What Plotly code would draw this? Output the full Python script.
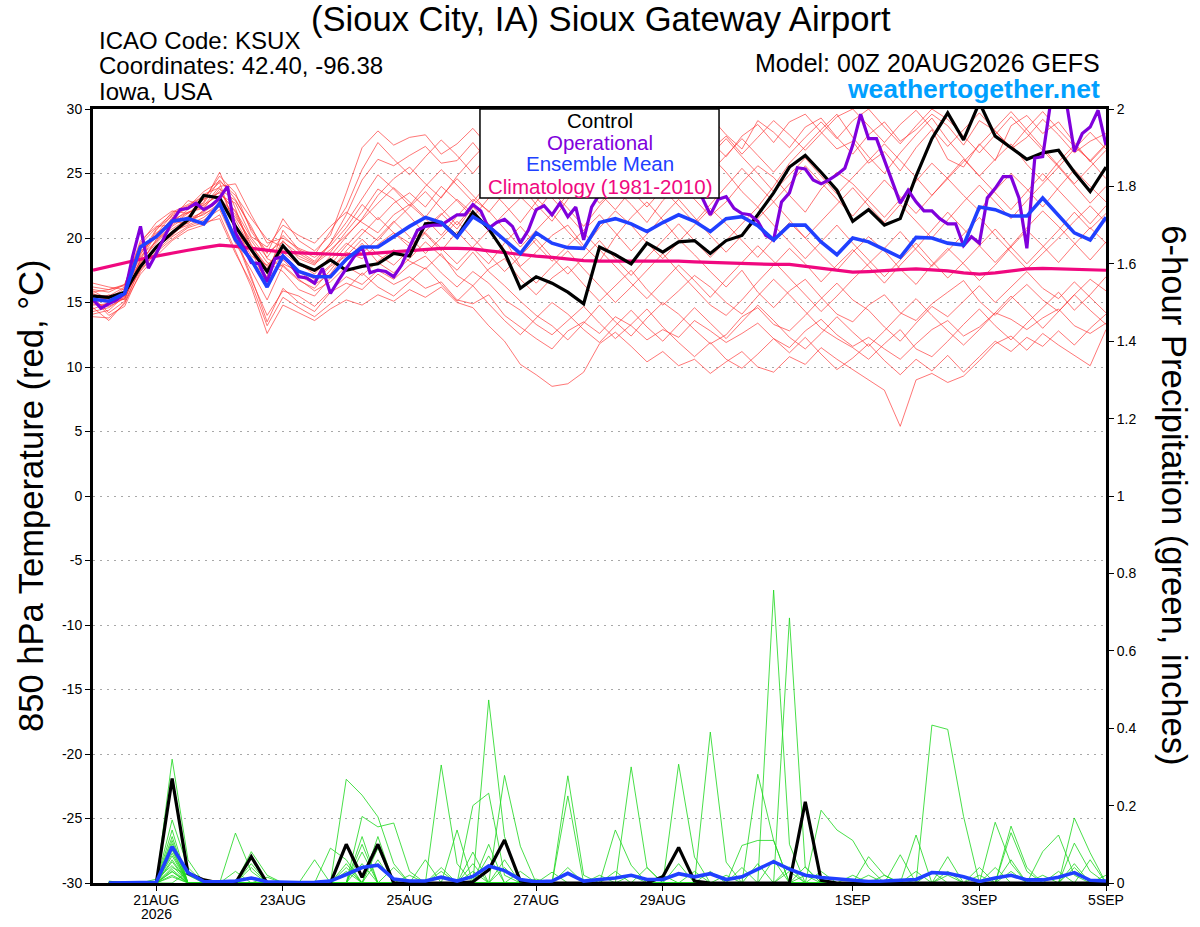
import pandas as pd
import plotly.graph_objects as go

# time axes (GEFS 00Z 20AUG2026 run, 6-hourly members, 3-hourly operational)
times_6h = pd.date_range("2026-08-20 00:00", periods=65, freq="6h")
times_3h = pd.date_range("2026-08-20 00:00", periods=129, freq="3h")
times_precip = times_6h[1:]

tick_dates = ["2026-08-21", "2026-08-23", "2026-08-25", "2026-08-27",
              "2026-08-29", "2026-09-01", "2026-09-03", "2026-09-05"]
tick_labels = ["21AUG", "23AUG", "25AUG", "27AUG", "29AUG", "1SEP", "3SEP", "5SEP"]
year_label = "2026"
temp_ticks = [-30, -25, -20, -15, -10, -5, 0, 5, 10, 15, 20, 25, 30]
temp_tick_labels = ["-30", "-25", "-20", "-15", "-10", "-5", "0", "5", "10", "15", "20", "25", "30"]

# 850 hPa temperature (C)
control_temp = [15.5, 15.4, 15.8, 17.8, 19.3, 20.4, 21.4, 23.3, 23.1, 20.9,
                19.1, 17.4, 19.4, 18.0, 17.5, 18.3, 17.5, 17.8, 18.0, 18.8,
                18.6, 21.1, 21.2, 20.1, 22.0, 20.7, 18.9, 16.1, 17.0, 16.5,
                15.8, 14.9, 19.3, 18.7, 18.0, 19.6, 18.9, 19.7, 19.8, 18.8,
                19.8, 20.2, 21.8, 23.5, 25.5, 26.4, 25.1, 23.7, 21.3, 22.2,
                21.0, 21.5, 24.8, 27.7, 29.7, 27.6, 30.5, 27.9, 27.0, 26.1,
                26.6, 26.8, 25.1, 23.6, 25.5]

operational_temp = [15.25, 14.55, 14.9, 15.2, 15.7, 18.55, 20.9, 17.65, 18.8, 20.1,
                    21.3, 22.2, 22.3, 22.7, 22.2, 22.55, 23.1, 24.0, 20.4, 19.3,
                    18.1, 18.0, 16.6, 18.4, 18.55, 18.0, 17.0, 16.9, 16.5, 17.65,
                    15.7, 16.7, 17.65, 18.55, 19.3, 17.3, 17.5, 17.4, 17.0, 17.9,
                    19.3, 20.6, 20.9, 21.0, 21.0, 21.4, 21.8, 21.8, 22.6, 22.1,
                    20.75, 21.2, 21.45, 20.9, 19.6, 20.6, 22.2, 22.5, 21.8, 22.7,
                    21.65, 22.4, 19.85, 22.4, 23.4, 24.2, 24.8, 25.3, 24.6, 25.0,
                    25.6, 24.9, 24.3, 25.2, 25.8, 24.7, 24.0, 23.1, 21.8, 23.0,
                    23.2, 22.3, 21.9, 21.8, 21.3, 20.2, 19.85, 22.8, 23.5, 25.45,
                    25.35, 24.5, 24.2, 24.5, 24.9, 25.4, 27.2, 29.6, 27.7, 27.7,
                    26.0, 24.4, 22.7, 23.7, 22.8, 22.1, 22.1, 21.5, 21.1, 21.1,
                    19.4, 20.1, 19.6, 23.1, 23.85, 24.75, 24.75, 23.1, 19.2, 26.2,
                    26.3, 30.5, 31.0, 30.5, 26.7, 28.1, 28.6, 29.9, 27.2]

mean_temp = [15.25, 15.1, 15.7, 19.3, 20.1, 21.3, 21.5, 21.1, 22.7, 19.85,
             18.3, 16.2, 18.6, 17.4, 17.0, 17.0, 18.35, 19.3, 19.3, 20.1,
             20.9, 21.6, 21.2, 20.05, 21.65, 20.9, 19.85, 18.8, 20.4, 19.6,
             19.25, 19.2, 21.2, 21.5, 21.1, 20.5, 21.2, 21.8, 21.3, 20.5,
             21.5, 21.65, 20.95, 19.85, 21.0, 21.0, 19.7, 18.7, 20.0, 19.7,
             19.1, 18.5, 20.05, 20.0, 19.6, 19.45, 22.4, 22.2, 21.7, 21.7,
             23.1, 21.8, 20.4, 19.85, 21.6]

climo_temp = [17.5, 17.8, 18.1, 18.35, 18.6, 18.85, 19.05, 19.25, 19.45, 19.35,
              19.2, 19.05, 18.9, 18.85, 18.8, 18.75, 18.7, 18.75, 18.85, 18.95,
              19.05, 19.15, 19.2, 19.2, 19.15, 19.0, 18.85, 18.7, 18.6, 18.5,
              18.35, 18.25, 18.2, 18.2, 18.25, 18.25, 18.25, 18.2, 18.15, 18.1,
              18.05, 18.0, 18.0, 17.95, 17.95, 17.8, 17.6, 17.45, 17.35, 17.4,
              17.5, 17.55, 17.6, 17.55, 17.45, 17.3, 17.2, 17.3, 17.45, 17.6,
              17.65, 17.6, 17.55, 17.5, 17.5]

temp_m01 = [15.8, 16.0, 16.3, 19.5, 20.8, 21.9, 22.5, 23.0, 24.8, 23.5,
            20.5, 18.8, 21.5, 19.8, 19.0, 20.2, 23.5, 27.0, 28.3, 27.2,
            27.8, 28.0, 26.5, 27.3, 28.5, 27.1, 28.8, 29.5, 28.2, 29.0,
            27.6, 28.4, 29.2, 27.9, 28.8, 29.6, 28.1, 27.3, 28.9, 29.4,
            28.0, 26.9, 29.1, 28.2, 27.0, 28.6, 29.3, 27.8, 26.5, 28.0,
            29.0, 27.5, 28.4, 29.6, 28.7, 27.2, 29.1, 28.3, 26.9, 27.8,
            29.2, 28.0, 26.6, 27.5, 28.1]
temp_m02 = [15.2, 15.0, 15.9, 18.8, 20.2, 21.4, 22.0, 22.4, 23.6, 22.0,
            19.5, 17.6, 19.8, 18.4, 17.9, 19.6, 21.8, 24.5, 26.1, 25.6,
            26.4, 27.1, 25.8, 26.0, 27.4, 25.9, 26.8, 27.6, 25.2, 26.5,
            24.8, 26.0, 27.3, 25.7, 26.4, 27.8, 26.2, 25.1, 26.9, 27.5,
            26.3, 27.9, 28.8, 27.4, 29.0, 29.6, 28.2, 26.9, 27.5, 25.8,
            26.7, 25.2, 27.0, 28.4, 26.1, 25.5, 27.3, 26.0, 28.7, 29.5,
            28.1, 29.0, 27.4, 25.9, 27.2]
temp_m03 = [14.6, 13.6, 15.0, 17.2, 18.6, 19.8, 20.6, 21.0, 21.8, 19.0,
            16.2, 12.6, 14.8, 14.2, 13.6, 14.5, 15.2, 14.8, 15.6, 15.1,
            16.0, 15.4, 16.2, 15.0, 14.6, 13.2, 12.0, 10.2, 9.4, 8.5,
            8.7, 9.6, 11.8, 12.7, 11.6, 10.4, 11.2, 10.1, 10.6, 9.5,
            10.4, 11.2, 10.0, 9.6, 10.8, 10.2, 11.5, 10.6, 9.8, 9.0,
            8.2, 5.4, 9.0, 9.5, 8.8, 9.3, 10.5, 11.8, 12.4, 11.3,
            12.6, 11.7, 10.9, 10.1, 12.9]
temp_m04 = [13.9, 13.8, 14.9, 17.8, 19.2, 20.5, 21.0, 21.6, 22.6, 20.2,
            17.0, 13.5, 16.1, 15.0, 14.3, 15.8, 16.5, 16.0, 17.2, 16.4,
            17.0, 16.1, 16.6, 15.2, 14.9, 15.6, 14.0, 13.1, 12.2, 11.4,
            12.8, 13.5, 12.6, 13.9, 13.2, 12.1, 12.9, 12.3, 13.6, 12.8,
            11.9, 12.6, 13.4, 12.2, 11.5, 12.8, 13.7, 12.5, 11.6, 12.3,
            11.4, 10.6, 11.8, 12.9, 13.6, 12.4, 13.1, 14.2, 13.7, 12.9,
            13.8, 14.5, 13.2, 12.6, 13.4]
temp_m05 = [15.5, 15.3, 16.1, 18.2, 19.6, 20.9, 21.7, 22.8, 25.1, 22.3,
            19.0, 16.4, 18.3, 17.1, 16.4, 17.2, 18.9, 18.4, 19.5, 20.4,
            19.6, 20.8, 21.9, 20.7, 22.4, 21.1, 19.9, 17.8, 18.9, 20.2,
            21.0, 19.4, 18.2, 20.1, 21.6, 22.8, 21.4, 19.9, 18.7, 17.4,
            16.2, 17.5, 15.8, 14.6, 15.9, 16.8, 15.4, 14.1, 13.5, 14.8,
            15.6, 14.2, 13.6, 14.9, 15.8, 16.7, 15.1, 14.0, 15.3, 16.4,
            15.2, 14.3, 15.6, 16.8, 15.9]
temp_m06 = [16.5, 16.2, 16.0, 18.9, 20.4, 21.2, 22.2, 23.4, 23.9, 21.1,
            18.2, 17.0, 20.6, 19.1, 18.5, 19.4, 20.8, 22.6, 21.4, 22.7,
            23.5, 22.4, 24.0, 22.9, 21.6, 23.1, 24.4, 23.2, 22.0, 23.6,
            22.3, 20.9, 22.5, 23.8, 22.6, 21.2, 22.9, 24.1, 23.0, 21.7,
            22.8, 24.3, 25.6, 24.7, 23.3, 22.0, 23.8, 25.1, 24.2, 22.9,
            21.6, 23.0, 24.4, 25.8, 24.6, 23.3, 22.1, 23.7, 25.0, 23.8,
            22.4, 23.9, 25.3, 24.0, 22.8]
temp_m07 = [14.3, 14.6, 15.4, 19.0, 20.0, 21.6, 21.3, 22.1, 23.0, 21.6,
            19.8, 18.1, 17.4, 16.0, 15.5, 16.9, 18.2, 19.6, 18.1, 17.3,
            18.4, 19.7, 18.6, 17.5, 18.9, 17.4, 16.3, 15.1, 14.0, 13.2,
            12.1, 13.4, 14.8, 13.5, 12.4, 13.8, 15.0, 14.1, 12.9, 11.8,
            12.5, 13.9, 14.6, 13.3, 12.8, 14.0, 15.3, 16.5, 15.2, 14.4,
            13.1, 12.0, 13.4, 14.7, 13.9, 15.1, 16.3, 15.0, 16.2, 17.4,
            16.1, 15.3, 16.6, 15.4, 14.2]
temp_m08 = [15.0, 15.6, 15.2, 18.4, 20.6, 22.0, 22.6, 23.2, 24.3, 20.8,
            18.6, 17.9, 19.1, 18.0, 17.2, 18.6, 20.1, 21.5, 23.3, 24.6,
            25.5, 24.2, 23.1, 24.8, 26.2, 27.5, 25.4, 24.1, 22.6, 21.3,
            23.0, 24.5, 25.8, 27.0, 25.6, 24.2, 25.5, 26.8, 27.9, 26.4,
            25.1, 23.6, 22.4, 24.0, 25.8, 27.1, 28.4, 29.6, 27.8, 26.3,
            25.0, 26.6, 28.0, 29.3, 27.6, 26.2, 24.8, 26.1, 27.3, 25.7,
            24.4, 25.9, 27.2, 26.0, 24.6]
temp_m09 = [15.7, 15.1, 15.6, 17.5, 19.0, 20.1, 20.9, 21.4, 22.2, 19.6,
            17.5, 15.2, 17.9, 16.8, 15.9, 16.6, 17.8, 17.1, 18.2, 19.1,
            18.2, 17.6, 18.8, 17.1, 16.3, 17.6, 18.4, 16.8, 15.6, 16.9,
            17.8, 16.4, 15.1, 16.3, 17.5, 16.0, 14.8, 15.9, 17.1, 16.2,
            15.0, 14.1, 15.5, 16.8, 15.6, 14.3, 13.0, 12.2, 11.5, 10.6,
            11.8, 12.9, 11.4, 10.8, 12.0, 13.3, 14.5, 13.2, 12.1, 13.4,
            14.6, 15.8, 14.4, 15.6, 17.0]
temp_m10 = [16.0, 15.8, 16.4, 19.8, 20.9, 21.0, 21.9, 22.6, 23.3, 22.7,
            20.1, 19.3, 21.0, 20.2, 19.6, 20.9, 22.0, 21.2, 20.4, 21.8,
            22.6, 21.5, 20.2, 21.7, 23.0, 22.1, 20.7, 19.3, 20.6, 21.9,
            20.5, 19.2, 20.8, 22.1, 21.0, 19.6, 18.4, 19.7, 21.0, 22.3,
            21.1, 19.8, 18.5, 19.9, 21.2, 20.0, 18.7, 17.5, 18.9, 20.1,
            19.0, 17.6, 16.4, 17.9, 19.2, 18.0, 16.7, 17.9, 19.3, 20.6,
            19.4, 18.1, 19.5, 20.8, 19.6]
temp_m11 = [14.8, 14.9, 15.3, 18.0, 19.9, 20.7, 21.5, 22.0, 22.9, 21.0,
            18.9, 17.3, 18.7, 17.5, 16.8, 17.9, 19.4, 20.7, 19.8, 21.2,
            22.4, 23.6, 22.3, 21.0, 22.5, 23.9, 22.6, 21.2, 22.8, 24.3,
            25.5, 24.1, 22.7, 23.9, 25.2, 26.6, 25.3, 24.0, 25.4, 26.8,
            27.9, 26.5, 27.8, 29.1, 28.0, 26.8, 28.1, 29.4, 30.0, 28.7,
            27.4, 28.8, 29.9, 28.5, 27.1, 28.4, 29.7, 28.3, 27.0, 28.5,
            29.8, 28.4, 27.1, 26.0, 27.3]
temp_m12 = [15.4, 14.2, 15.1, 17.6, 19.4, 20.3, 21.2, 21.9, 22.4, 20.0,
            16.8, 14.0, 15.9, 15.5, 14.7, 15.9, 17.0, 16.4, 17.5, 16.8,
            17.9, 18.6, 17.3, 16.2, 17.4, 16.5, 15.2, 14.4, 13.3, 12.5,
            13.6, 14.7, 13.4, 12.2, 13.3, 14.5, 13.1, 11.9, 10.8, 11.9,
            10.6, 9.9, 11.0, 12.2, 11.1, 12.3, 11.0, 9.8, 10.7, 11.8,
            10.5, 9.4, 10.6, 9.7, 10.9, 9.6, 10.8, 12.0, 11.2, 12.3,
            11.6, 12.8, 11.7, 13.0, 14.1]
temp_m13 = [15.1, 15.4, 15.8, 18.6, 19.7, 21.1, 22.0, 22.3, 23.8, 22.9,
            20.9, 18.4, 17.8, 16.7, 16.1, 17.5, 19.0, 20.3, 21.6, 20.4,
            19.3, 20.5, 21.8, 23.0, 21.9, 20.6, 21.9, 23.1, 24.4, 23.1,
            21.8, 20.4, 19.1, 17.8, 16.5, 15.3, 16.6, 17.9, 16.7, 15.4,
            16.8, 18.1, 19.4, 18.2, 16.9, 15.6, 14.3, 15.5, 16.8, 18.0,
            19.2, 20.5, 19.1, 17.8, 19.0, 20.3, 21.6, 20.2, 18.9, 17.6,
            18.8, 20.0, 21.3, 22.5, 21.2]
temp_m14 = [14.1, 14.4, 15.5, 18.3, 20.3, 21.8, 22.4, 23.6, 24.4, 23.3,
            21.5, 19.9, 19.3, 18.6, 18.0, 18.9, 20.5, 22.0, 23.8, 23.0,
            21.7, 20.3, 19.0, 20.5, 19.2, 18.0, 19.6, 20.9, 19.5, 18.2,
            19.4, 20.6, 21.8, 20.4, 19.0, 20.3, 21.7, 23.0, 21.6, 20.2,
            18.9, 20.2, 21.5, 22.8, 21.4, 20.0, 21.3, 22.6, 23.9, 22.5,
            21.2, 22.6, 21.3, 20.0, 21.4, 22.8, 24.1, 22.8, 21.5, 22.9,
            24.2, 25.5, 24.1, 22.7, 24.0]
temp_m15 = [15.9, 15.2, 15.7, 19.2, 20.1, 21.5, 22.9, 22.5, 24.0, 24.2,
            21.8, 19.6, 20.0, 19.2, 18.7, 20.5, 22.4, 25.3, 27.4, 26.1,
            24.9, 26.3, 27.6, 26.4, 25.0, 26.5, 28.0, 26.6, 25.2, 26.7,
            28.1, 29.3, 27.9, 26.5, 27.9, 29.2, 27.8, 26.3, 25.0, 26.4,
            27.7, 26.3, 25.0, 23.6, 24.9, 26.2, 24.8, 23.4, 24.7, 26.0,
            27.3, 26.0, 24.7, 23.3, 24.6, 25.9, 27.2, 28.5, 29.8, 28.4,
            27.0, 25.6, 24.2, 25.5, 26.8]
temp_m16 = [14.9, 14.7, 15.3, 17.9, 19.3, 20.2, 21.4, 21.8, 22.7, 21.4,
            19.2, 16.9, 18.0, 17.4, 16.6, 17.8, 18.6, 19.9, 18.7, 17.9,
            19.1, 20.4, 19.2, 18.0, 19.3, 20.6, 19.1, 17.7, 16.5, 17.8,
            19.0, 17.6, 16.3, 15.0, 16.2, 17.5, 18.8, 17.4, 16.1, 14.8,
            14.0, 15.2, 16.6, 17.9, 19.2, 18.0, 16.6, 17.9, 19.1, 17.8,
            16.5, 17.9, 19.2, 20.6, 22.0, 20.7, 19.4, 18.1, 19.4, 20.8,
            22.1, 20.9, 19.6, 18.3, 19.7]
temp_m17 = [15.3, 14.0, 14.7, 17.4, 18.9, 19.9, 20.8, 21.2, 21.5, 18.8,
            16.5, 13.2, 15.4, 14.6, 13.9, 14.9, 16.0, 17.3, 16.2, 15.5,
            16.6, 17.7, 16.4, 15.1, 16.3, 14.9, 13.6, 12.5, 13.8, 15.0,
            14.1, 12.9, 11.9, 13.2, 14.4, 13.1, 12.0, 13.3, 14.6, 13.4,
            12.2, 13.5, 14.8, 13.6, 12.3, 11.4, 12.6, 13.9, 12.7, 11.6,
            12.8, 14.1, 15.3, 14.0, 12.8, 11.7, 12.9, 14.2, 15.5, 14.3,
            13.0, 14.3, 15.6, 14.4, 13.3]
temp_m18 = [16.2, 16.0, 16.4, 19.6, 21.2, 22.1, 21.9, 23.0, 23.5, 22.1,
            20.0, 18.5, 20.2, 19.0, 18.2, 19.6, 21.2, 23.1, 24.9, 23.8,
            22.5, 24.0, 25.3, 24.1, 22.8, 24.3, 25.7, 24.4, 23.1, 21.9,
            23.4, 24.8, 23.5, 22.2, 23.7, 25.0, 26.3, 25.0, 23.7, 25.1,
            26.4, 27.7, 26.4, 25.1, 26.5, 27.8, 29.0, 27.7, 29.1, 30.0,
            28.6, 27.3, 28.7, 30.0, 29.2, 27.9, 26.6, 28.0, 29.4, 28.1,
            26.8, 25.5, 26.9, 28.2, 26.9]
temp_m19 = [14.5, 15.0, 15.5, 18.1, 19.8, 21.3, 21.1, 22.2, 23.1, 21.8,
            19.4, 17.8, 18.9, 17.9, 17.4, 18.3, 19.6, 18.8, 20.0, 21.3,
            20.1, 18.8, 20.0, 21.3, 20.0, 18.7, 17.4, 18.6, 19.9, 18.5,
            17.2, 18.5, 19.8, 18.4, 17.1, 18.5, 19.8, 21.1, 19.8, 18.5,
            19.8, 21.1, 22.4, 21.0, 19.7, 18.4, 19.7, 21.0, 19.6, 18.3,
            17.0, 18.3, 19.6, 18.2, 16.9, 18.1, 19.4, 20.7, 19.3, 18.0,
            19.3, 20.6, 22.0, 20.7, 21.9]
temp_m20 = [15.6, 15.5, 16.2, 18.7, 20.7, 21.7, 22.3, 22.7, 24.5, 23.0,
            20.7, 18.9, 19.7, 18.8, 18.1, 19.1, 20.2, 21.4, 22.7, 23.9,
            22.8, 21.6, 23.2, 24.6, 23.3, 22.0, 23.5, 24.9, 26.2, 24.8,
            23.5, 24.9, 26.3, 25.0, 23.7, 22.4, 23.8, 22.5, 21.2, 22.6,
            24.0, 25.4, 24.1, 22.8, 24.2, 25.6, 24.3, 23.0, 21.7, 23.1,
            24.5, 23.2, 21.9, 23.3, 24.7, 26.1, 24.8, 23.5, 22.2, 23.6,
            25.0, 23.7, 22.4, 21.1, 22.5]

# 6-hour precipitation (inches), valid 06Z 20AUG onward
control_precip = [0, 0, 0, 0, 0.27, 0.025, 0.008, 0,
                  0, 0.068, 0, 0, 0, 0, 0, 0.1,
                  0.015, 0.1, 0, 0, 0, 0, 0, 0.003,
                  0.034, 0.111, 0.005, 0, 0, 0, 0, 0,
                  0, 0, 0, 0.016, 0.092, 0.005, 0, 0,
                  0, 0, 0, 0, 0.21, 0.007, 0, 0,
                  0, 0, 0, 0, 0, 0, 0, 0,
                  0, 0, 0, 0, 0, 0, 0, 0]
mean_precip = [0, 0, 0, 0.002, 0.094, 0.027, 0.004, 0.003,
               0.005, 0.013, 0.003, 0.001, 0.001, 0.002, 0.005, 0.022,
               0.04, 0.046, 0.01, 0.005, 0.005, 0.015, 0.005, 0.017,
               0.044, 0.032, 0.009, 0.003, 0.005, 0.025, 0.005, 0.009,
               0.013, 0.02, 0.009, 0.009, 0.024, 0.016, 0.024, 0.009,
               0.016, 0.036, 0.055, 0.036, 0.02, 0.014, 0.01, 0.008,
               0.004, 0.005, 0.007, 0.009, 0.027, 0.025, 0.016, 0.004,
               0.013, 0.02, 0.008, 0.008, 0.015, 0.027, 0.007, 0.005]

precip_m01 = [0, 0, 0, 0, 0.32, 0.06, 0, 0,
              0, 0, 0, 0, 0, 0, 0, 0,
              0, 0, 0, 0, 0, 0.305, 0.05, 0,
              0, 0, 0, 0, 0, 0, 0, 0,
              0, 0, 0, 0, 0, 0, 0, 0,
              0, 0, 0.757, 0.1, 0, 0, 0, 0,
              0, 0, 0, 0, 0, 0.02, 0, 0,
              0, 0, 0, 0, 0, 0, 0, 0]
precip_m02 = [0, 0, 0, 0, 0.163, 0.04, 0, 0,
              0, 0, 0, 0, 0, 0, 0, 0.268,
              0.227, 0.171, 0.05, 0, 0, 0, 0, 0,
              0, 0, 0, 0, 0, 0, 0, 0,
              0, 0, 0, 0, 0, 0, 0, 0,
              0, 0, 0, 0.685, 0.04, 0, 0, 0,
              0, 0, 0, 0, 0, 0, 0, 0,
              0, 0, 0, 0, 0, 0, 0, 0]
precip_m03 = [0, 0, 0, 0, 0.137, 0, 0, 0,
              0.129, 0.03, 0, 0, 0, 0, 0, 0,
              0, 0, 0, 0, 0, 0, 0, 0,
              0.473, 0.12, 0, 0, 0, 0, 0, 0,
              0, 0, 0, 0, 0.307, 0.067, 0, 0,
              0, 0, 0, 0, 0, 0, 0, 0,
              0, 0, 0, 0, 0, 0, 0, 0,
              0, 0, 0, 0, 0, 0, 0, 0]
precip_m04 = [0, 0, 0, 0, 0.102, 0, 0, 0,
              0, 0.081, 0.02, 0, 0, 0, 0, 0,
              0.172, 0.145, 0.155, 0.03, 0, 0, 0, 0,
              0, 0, 0, 0, 0, 0, 0, 0,
              0, 0.3, 0.04, 0, 0, 0, 0, 0,
              0, 0, 0, 0, 0, 0, 0, 0,
              0, 0, 0, 0, 0, 0, 0, 0,
              0, 0, 0, 0, 0, 0, 0, 0]
precip_m05 = [0, 0, 0, 0, 0.077, 0, 0, 0,
              0, 0, 0, 0, 0, 0, 0, 0,
              0, 0, 0, 0, 0, 0, 0, 0.2,
              0.232, 0.02, 0, 0, 0, 0, 0, 0,
              0, 0, 0, 0, 0, 0, 0.39, 0.054,
              0, 0, 0, 0, 0, 0, 0, 0,
              0, 0, 0, 0, 0.408, 0.397, 0.172, 0,
              0, 0, 0, 0, 0, 0, 0, 0]
precip_m06 = [0, 0, 0, 0, 0.055, 0, 0, 0,
              0, 0, 0, 0, 0, 0, 0.09, 0.06,
              0, 0, 0, 0, 0, 0, 0, 0,
              0, 0.278, 0.095, 0, 0, 0, 0, 0,
              0, 0, 0, 0, 0, 0, 0, 0,
              0, 0.281, 0.11, 0, 0, 0, 0, 0,
              0, 0, 0, 0, 0, 0, 0, 0,
              0, 0, 0, 0, 0, 0, 0, 0]
precip_m07 = [0, 0, 0, 0, 0.04, 0.02, 0, 0,
              0, 0, 0, 0, 0, 0, 0, 0,
              0, 0, 0, 0, 0, 0, 0, 0,
              0, 0, 0, 0, 0, 0.277, 0.02, 0,
              0, 0, 0, 0, 0, 0, 0, 0,
              0, 0, 0, 0, 0, 0.188, 0.137, 0.11,
              0.04, 0, 0, 0, 0, 0, 0, 0,
              0, 0, 0, 0, 0, 0, 0, 0]
precip_m08 = [0, 0, 0, 0, 0.029, 0, 0, 0,
              0, 0, 0, 0, 0, 0.06, 0, 0,
              0.08, 0, 0, 0, 0, 0, 0, 0,
              0, 0, 0, 0, 0, 0.225, 0, 0,
              0.137, 0.046, 0, 0, 0, 0, 0, 0,
              0, 0, 0, 0, 0, 0, 0, 0,
              0, 0, 0, 0.124, 0, 0, 0, 0,
              0.157, 0.05, 0, 0, 0, 0, 0, 0]
precip_m09 = [0, 0, 0, 0, 0.016, 0, 0, 0,
              0, 0.05, 0, 0, 0, 0, 0, 0,
              0, 0.09, 0, 0, 0, 0, 0.137, 0,
              0, 0, 0, 0, 0, 0, 0, 0,
              0, 0, 0, 0, 0, 0, 0, 0,
              0.097, 0.11, 0.11, 0, 0, 0, 0, 0,
              0, 0, 0, 0, 0, 0, 0, 0,
              0, 0.147, 0.04, 0, 0, 0, 0, 0]
precip_m10 = [0, 0, 0, 0, 0.12, 0, 0, 0,
              0, 0, 0, 0, 0, 0, 0, 0,
              0.05, 0, 0, 0, 0, 0, 0, 0.08,
              0, 0, 0, 0, 0.028, 0, 0, 0,
              0, 0, 0, 0, 0, 0, 0, 0,
              0, 0, 0, 0, 0.042, 0, 0, 0,
              0, 0, 0.073, 0, 0, 0, 0, 0,
              0, 0, 0, 0, 0, 0.168, 0.078, 0]
precip_m11 = [0, 0, 0, 0, 0, 0.03, 0, 0,
              0, 0, 0, 0, 0, 0, 0, 0.04,
              0, 0, 0, 0, 0, 0.04, 0, 0,
              0, 0, 0, 0, 0, 0, 0, 0,
              0, 0, 0, 0, 0.05, 0, 0, 0,
              0, 0, 0, 0, 0, 0, 0, 0,
              0.068, 0.02, 0, 0, 0, 0, 0, 0,
              0, 0, 0, 0.081, 0.124, 0.02, 0, 0]
precip_m12 = [0, 0, 0, 0, 0.09, 0, 0, 0,
              0, 0, 0, 0, 0, 0, 0, 0,
              0, 0.06, 0, 0, 0, 0, 0, 0,
              0.1, 0, 0, 0, 0, 0, 0, 0,
              0, 0, 0.04, 0, 0, 0, 0, 0,
              0, 0, 0, 0.042, 0, 0, 0, 0,
              0, 0, 0, 0, 0, 0, 0, 0.04,
              0, 0.13, 0.03, 0, 0, 0, 0, 0]
precip_m13 = [0, 0, 0, 0, 0.06, 0, 0, 0,
              0, 0, 0, 0, 0, 0, 0, 0.03,
              0, 0, 0, 0, 0.06, 0, 0, 0,
              0, 0.06, 0, 0, 0, 0, 0, 0,
              0, 0, 0, 0, 0, 0.03, 0, 0,
              0, 0, 0, 0, 0, 0, 0, 0.02,
              0, 0, 0, 0, 0, 0.068, 0, 0,
              0, 0, 0, 0, 0, 0.103, 0.03, 0]
precip_m14 = [0, 0, 0, 0.01, 0.045, 0, 0, 0,
              0, 0.04, 0, 0, 0, 0, 0, 0,
              0.12, 0, 0, 0, 0, 0, 0, 0,
              0, 0, 0.03, 0, 0, 0, 0, 0,
              0, 0, 0, 0, 0, 0, 0, 0.02,
              0, 0, 0, 0, 0, 0, 0, 0,
              0, 0, 0, 0.03, 0, 0, 0, 0,
              0.04, 0, 0, 0, 0, 0.05, 0, 0]
precip_m15 = [0.005, 0, 0, 0, 0.035, 0, 0, 0,
              0, 0, 0, 0, 0, 0, 0, 0,
              0, 0, 0.04, 0, 0, 0, 0, 0.05,
              0, 0, 0, 0, 0, 0, 0, 0,
              0.03, 0, 0, 0, 0, 0, 0, 0,
              0, 0, 0.06, 0, 0, 0, 0, 0,
              0.02, 0, 0, 0, 0, 0, 0, 0,
              0, 0, 0, 0, 0.03, 0, 0, 0]
precip_m16 = [0, 0, 0, 0, 0.02, 0, 0, 0,
              0, 0, 0.015, 0, 0, 0, 0, 0,
              0, 0.12, 0, 0, 0, 0, 0, 0,
              0.07, 0, 0, 0, 0, 0, 0, 0.02,
              0, 0, 0, 0, 0, 0, 0, 0,
              0, 0.05, 0, 0, 0, 0, 0, 0,
              0, 0, 0, 0, 0.03, 0, 0, 0,
              0, 0.06, 0, 0, 0, 0, 0, 0]
precip_m17 = [0, 0, 0, 0, 0.07, 0, 0, 0,
              0, 0, 0, 0, 0, 0, 0, 0,
              0, 0, 0, 0, 0, 0.03, 0, 0,
              0, 0, 0, 0, 0, 0.04, 0, 0,
              0, 0, 0, 0, 0, 0, 0.03, 0,
              0, 0, 0, 0, 0, 0.03, 0, 0,
              0, 0, 0, 0, 0, 0, 0, 0.02,
              0, 0, 0, 0, 0, 0, 0.06, 0]
precip_m18 = [0, 0, 0, 0, 0.11, 0, 0, 0,
              0, 0, 0, 0, 0, 0, 0, 0,
              0.1, 0, 0, 0, 0, 0, 0, 0,
              0, 0.04, 0, 0, 0, 0, 0, 0,
              0, 0, 0, 0.02, 0, 0, 0, 0,
              0, 0, 0, 0.03, 0, 0, 0, 0,
              0, 0, 0, 0, 0, 0.03, 0, 0,
              0, 0, 0, 0.02, 0, 0, 0, 0]
precip_m19 = [0, 0, 0, 0, 0.03, 0, 0, 0,
              0.03, 0, 0, 0, 0, 0, 0, 0,
              0, 0, 0, 0.02, 0, 0, 0, 0,
              0, 0, 0, 0.01, 0, 0, 0, 0,
              0, 0, 0, 0, 0, 0, 0, 0,
              0.04, 0, 0, 0, 0, 0, 0, 0,
              0, 0.02, 0, 0, 0, 0, 0, 0,
              0, 0.03, 0, 0, 0, 0, 0, 0.02]
precip_m20 = [0, 0, 0, 0, 0.085, 0, 0, 0,
              0, 0, 0, 0, 0, 0, 0, 0.05,
              0, 0, 0, 0, 0, 0, 0, 0.03,
              0, 0, 0, 0, 0, 0, 0, 0,
              0, 0.02, 0, 0, 0, 0, 0, 0,
              0, 0, 0, 0, 0.02, 0, 0, 0,
              0, 0, 0.01, 0, 0, 0, 0, 0,
              0, 0, 0, 0, 0, 0.04, 0, 0]

temp_members = [temp_m01, temp_m02, temp_m03, temp_m04, temp_m05, temp_m06, temp_m07,
                temp_m08, temp_m09, temp_m10, temp_m11, temp_m12, temp_m13, temp_m14,
                temp_m15, temp_m16, temp_m17, temp_m18, temp_m19, temp_m20]
precip_members = [precip_m01, precip_m02, precip_m03, precip_m04, precip_m05, precip_m06,
                  precip_m07, precip_m08, precip_m09, precip_m10, precip_m11, precip_m12,
                  precip_m13, precip_m14, precip_m15, precip_m16, precip_m17, precip_m18,
                  precip_m19, precip_m20]

FONT = "Liberation Sans, Arial, Helvetica, sans-serif"
RED = "rgba(255, 50, 50, 0.75)"
GREEN = "rgba(30, 215, 30, 0.9)"
PURPLE = "#8000dc"
BLUE = "#2040ff"
PINK = "#f0087f"

fig = go.Figure()

# ensemble members (temperature)
for m in temp_members:
    fig.add_trace(go.Scatter(x=times_6h, y=m, mode="lines",
                             line=dict(color=RED, width=0.9), hoverinfo="skip"))

# climatology, control, operational, ensemble mean
fig.add_trace(go.Scatter(x=times_6h, y=climo_temp, mode="lines",
                         line=dict(color=PINK, width=3.2)))
fig.add_trace(go.Scatter(x=times_6h, y=control_temp, mode="lines",
                         line=dict(color="black", width=3.2)))
fig.add_trace(go.Scatter(x=times_3h, y=operational_temp, mode="lines",
                         line=dict(color=PURPLE, width=3.2)))
fig.add_trace(go.Scatter(x=times_6h, y=mean_temp, mode="lines",
                         line=dict(color=BLUE, width=3.6)))

# precipitation on the right axis
for m in precip_members:
    fig.add_trace(go.Scatter(x=times_precip, y=m, mode="lines", yaxis="y2",
                             line=dict(color=GREEN, width=0.9), hoverinfo="skip"))
fig.add_trace(go.Scatter(x=times_precip, y=control_precip, mode="lines", yaxis="y2",
                         line=dict(color="black", width=3.2)))
fig.add_trace(go.Scatter(x=times_precip, y=mean_precip, mode="lines", yaxis="y2",
                         line=dict(color=BLUE, width=3.6)))

fig.update_layout(
    width=1200, height=927,
    margin=dict(l=93, r=94, t=109, b=44, autoexpand=False),
    paper_bgcolor="white", plot_bgcolor="white",
    showlegend=False,
    font=dict(family=FONT, color="black", size=14),
    xaxis=dict(
        type="date", range=[times_6h[0], times_6h[-1]],
        tickvals=tick_dates, ticktext=tick_labels,
        ticks="outside", ticklen=5, tickcolor="black", ticklabelstandoff=-3,
        showline=True, linewidth=3, linecolor="black", mirror=True,
        showgrid=False, zeroline=False, automargin=False,
        tickfont=dict(size=14),
    ),
    yaxis=dict(
        range=[-30, 30], tickvals=temp_ticks, ticktext=temp_tick_labels,
        ticks="outside", ticklen=5, tickcolor="black",
        showline=True, linewidth=3, linecolor="black",
        showgrid=True, gridcolor="#a8a8a8", griddash="2px,5px", gridwidth=1,
        zeroline=False, automargin=False, tickfont=dict(size=14),
    ),
    yaxis2=dict(
        overlaying="y", side="right",
        range=[0, 2], tickmode="linear", tick0=0, dtick=0.2,
        ticks="outside", ticklen=5, tickcolor="black",
        showline=True, linewidth=3, linecolor="black",
        showgrid=False, zeroline=False, automargin=False, tickfont=dict(size=14),
    ),
)

# year under the first date label
fig.add_annotation(text=year_label, xref="x", yref="paper", x=tick_dates[0], y=-0.040,
                   showarrow=False, xanchor="center", yanchor="middle", font=dict(size=14))

# legend box drawn over the lines
fig.add_shape(type="rect", xref="paper", yref="paper",
              x0=0.382, x1=0.618, y0=0.885, y1=1.0,
              fillcolor="white", line=dict(color="black", width=1.5), layer="above")

legend_items = [("Control", "black", 0.9845), ("Operational", PURPLE, 0.957),
                ("Ensemble Mean", BLUE, 0.930), ("Climatology (1981-2010)", PINK, 0.9005)]
for text, color, ypos in legend_items:
    fig.add_annotation(text=text, xref="paper", yref="paper", x=0.5, y=ypos,
                       showarrow=False, xanchor="center", yanchor="middle",
                       font=dict(size=20.5, color=color))

# header text
fig.add_annotation(text="(Sioux City, IA) Sioux Gateway Airport", xref="paper", yref="paper",
                   x=0.5015, y=1.116, showarrow=False, xanchor="center", yanchor="middle",
                   font=dict(size=34.6))
header_left = [("ICAO Code: KSUX", 1.089), ("Coordinates: 42.40, -96.38", 1.0556),
               ("Iowa, USA", 1.022)]
for text, ypos in header_left:
    fig.add_annotation(text=text, xref="paper", yref="paper", x=0.004, y=ypos,
                       showarrow=False, xanchor="left", yanchor="middle",
                       font=dict(size=24))
fig.add_annotation(text="Model: 00Z 20AUG2026 GEFS", xref="paper", yref="paper",
                   x=0.996, y=1.0594, showarrow=False, xanchor="right", yanchor="middle",
                   font=dict(size=25))
fig.add_annotation(text="<b>weathertogether.net</b>", xref="paper", yref="paper",
                   x=0.996, y=1.0258, showarrow=False, xanchor="right", yanchor="middle",
                   font=dict(size=26.5, color="#00a0ff"))

# axis titles
fig.add_annotation(text="850 hPa Temperature (red, °C)", xref="paper", yref="paper",
                   x=-0.0612, y=0.5, textangle=-90, showarrow=False,
                   xanchor="center", yanchor="middle", font=dict(size=34.6))
fig.add_annotation(text="6-hour Precipitation (green, inches)", xref="paper", yref="paper",
                   x=1.067, y=0.501, textangle=90, showarrow=False,
                   xanchor="center", yanchor="middle", font=dict(size=34.6))

# page body margin off so the 1200x927 figure fills the window exactly
fig.write_html("out.html", config={"displayModeBar": False},
               post_script="document.body.style.margin='0px';")
